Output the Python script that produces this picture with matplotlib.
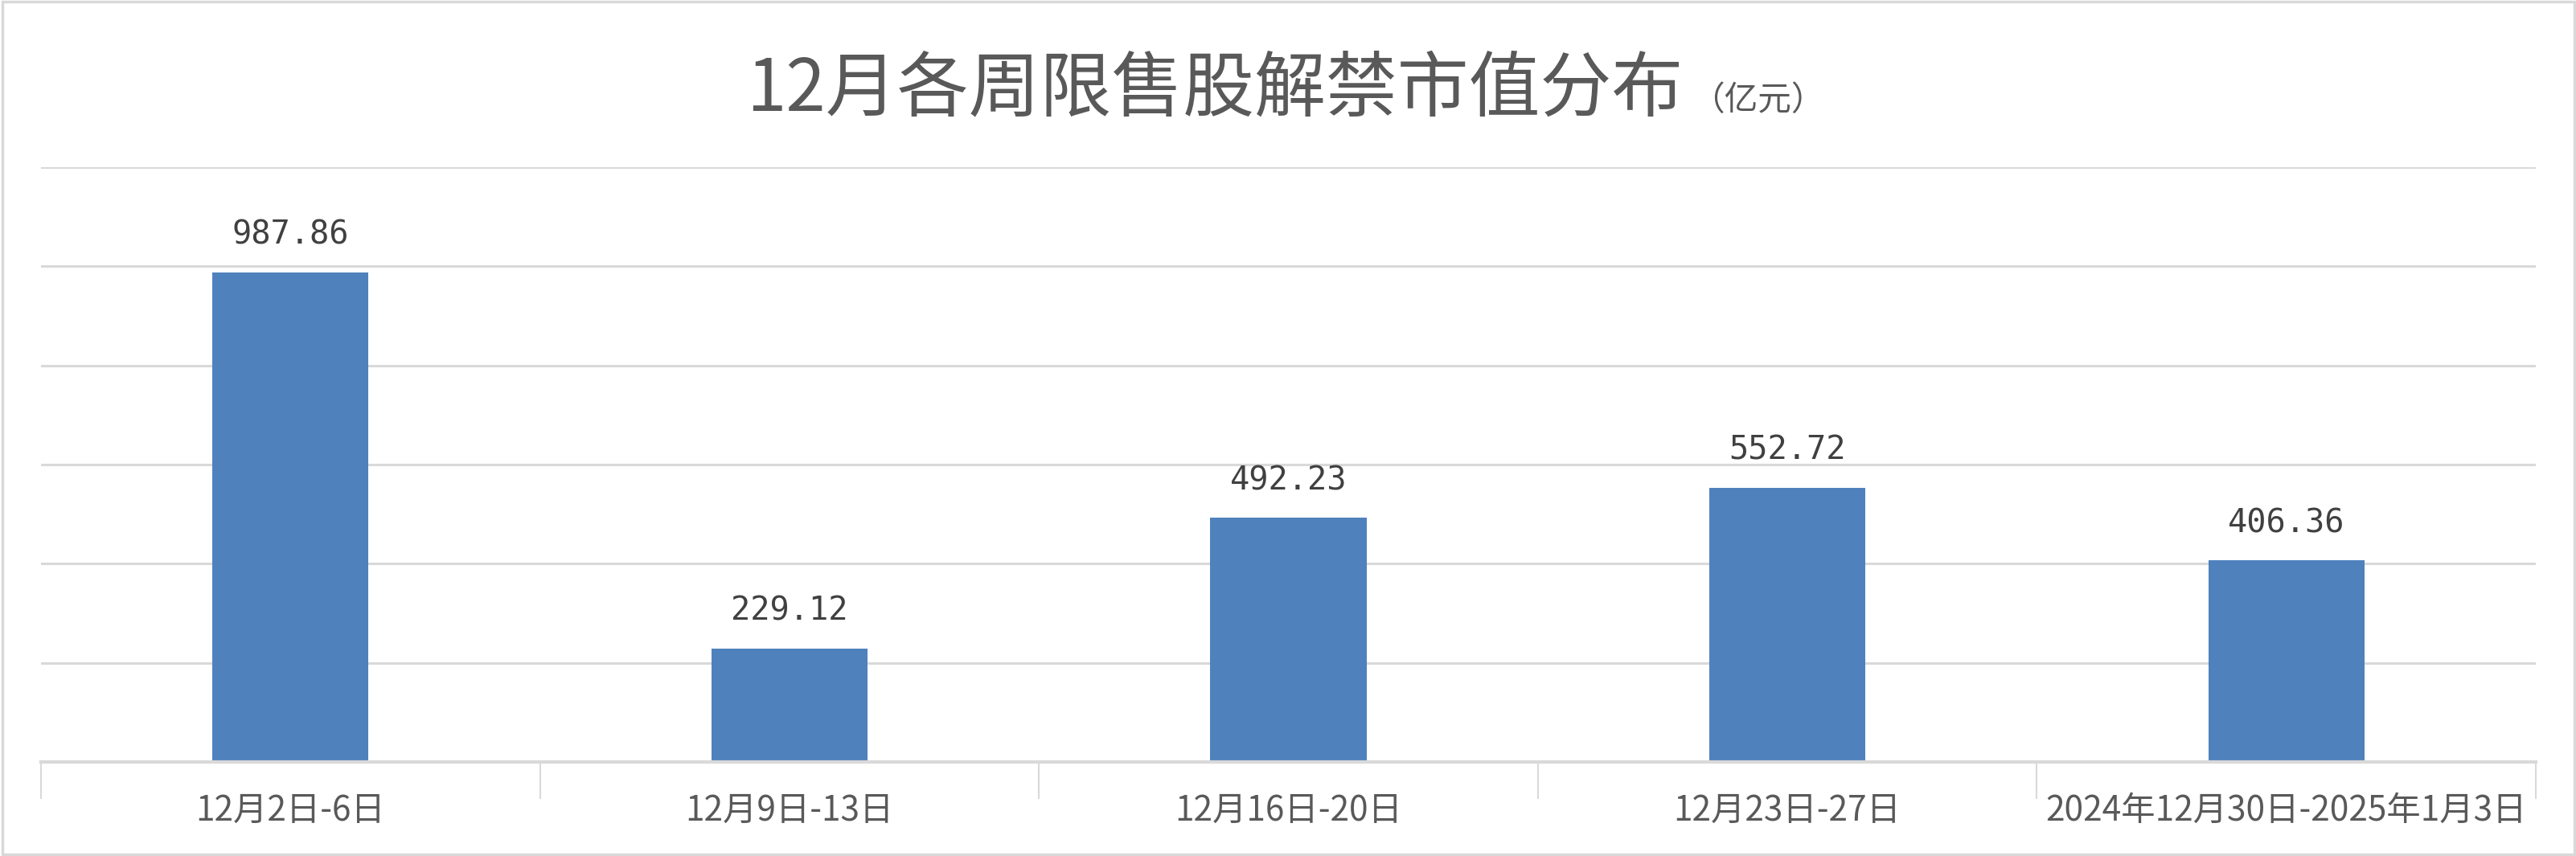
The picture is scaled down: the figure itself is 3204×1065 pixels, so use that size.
import matplotlib
matplotlib.use("Agg")
import matplotlib.pyplot as plt
import numpy as np

plt.rcParams['font.family'] = ['Noto Sans CJK SC', 'DejaVu Sans']

# data
weeks = ['12月2日-6日', '12月9日-13日', '12月16日-20日', '12月23日-27日',
         '2024年12月30日-2025年1月3日']
values = [987.86, 229.12, 492.23, 552.72, 406.36]

W, H = 3205, 1065
fig = plt.figure(figsize=(W / 100, H / 100), dpi=100)
fig.patch.set_facecolor('white')

# light grey frame around the whole chart
fig.add_artist(plt.Rectangle((0.001, 0.002), 0.998, 0.996, transform=fig.transFigure,
                             fill=False, edgecolor='#d9d9d9', linewidth=2.5))

ax = fig.add_axes([51 / W, 1 - 948 / H, (3154 - 51) / W, (948 - 208) / H])
x = np.arange(len(weeks))
bars = ax.bar(x, values, width=0.313, color='#4f81bd', zorder=3)

for b, v in zip(bars, values):
    ax.annotate(f'{v:.2f}', (b.get_x() + b.get_width() / 2, v),
                xytext=(0, 19), textcoords='offset points', ha='center', va='bottom',
                fontsize=29, color='#404040', family='DejaVu Sans Mono')

ax.set_xlim(-0.5, len(weeks) - 0.5)
ax.set_ylim(0, 1200)
ax.set_yticks(np.arange(200, 1201, 200))
ax.yaxis.grid(True, color='#d9d9d9', linewidth=2.2, zorder=0)
ax.tick_params(axis='y', left=False, labelleft=False)

ax.set_xticks(x)
ax.set_xticklabels(weeks, fontsize=30.5, color='#595959')
ax.set_xticks(np.arange(-0.5, len(weeks), 1), minor=True)
ax.tick_params(axis='x', which='major', length=0, pad=28)
ax.tick_params(axis='x', which='minor', length=33, width=1.5, color='#d9d9d9')

for s in ['top', 'left', 'right']:
    ax.spines[s].set_visible(False)
ax.spines['bottom'].set_color('#d9d9d9')
ax.spines['bottom'].set_linewidth(3)
ax.spines['bottom'].set_zorder(4)

fig.text(2093 / W, 1 - 137 / H, '12月各周限售股解禁市值分布', ha='right', va='baseline',
         fontsize=64, color='#595959')
fig.text(2103 / W, 1 - 137 / H, '（亿元）', ha='left', va='baseline',
         fontsize=30, color='#595959')

fig.savefig('out.png', dpi=100)
